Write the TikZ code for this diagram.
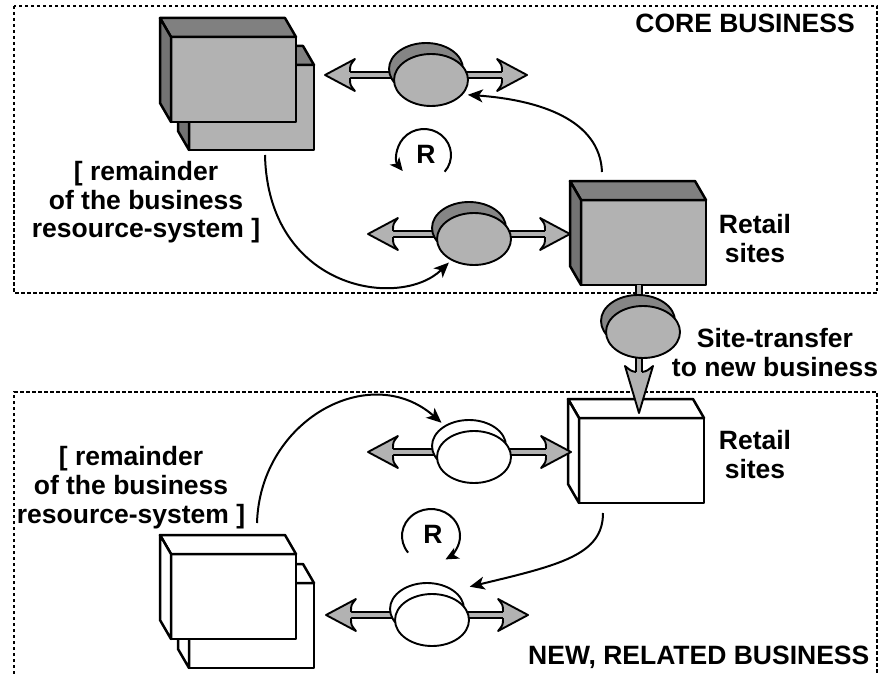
\documentclass[tikz,border=0pt]{standalone}
\usepackage{fontspec}
\setmainfont{Liberation Sans}
\usetikzlibrary{shapes.geometric,arrows.meta,calc}

\definecolor{facegray}{gray}{0.70}
\definecolor{topgray}{gray}{0.50}
\definecolor{sidegray}{gray}{0.45}
\definecolor{rimgray}{gray}{0.52}
\definecolor{flowgray}{gray}{0.70}

% centred lines whose baseline is the first line
\newcommand\stacked[1]{\begin{tabular}[t]{@{}c@{}}#1\end{tabular}}

% 3D box: name, front fill, top fill, side fill, top-left corner of the front face
\newcommand\solidbox[5]{%
  \node[boxface, fill=#2] (#1) at (#5) {};
  \filldraw[boxedge, fill=#3] (#1.north west) -- ++(-11,-19) -- ($(#1.north east)+(-11,-19)$) -- (#1.north east) -- cycle;
  \filldraw[boxedge, fill=#4] (#1.north west) -- ++(-11,-19) -- ($(#1.south west)+(-11,-19)$) -- (#1.south west) -- cycle;
}

% flow valve (coin): name, centre, face fill, rim fill
\newcommand\coin[4]{%
  \node[coinface, fill=#4] (#1-rim) at ($(#2)+(-5,-11)$) {};
  \node[coinface, fill=#3] (#1) at (#2) {};
}

% broad barbed arrow heads, tip at the given coordinate
\newcommand\headright[1]{%
  \begin{scope}[shift={(#1)}]
    \fill[flowgray] (0,0) -- (-30,-16) .. controls (-25,-10) .. (-25,-3) -- (-25,3) .. controls (-25,10) .. (-30,16) -- cycle;
    \draw[flowline] (-25,-3) .. controls (-25,-10) .. (-30,-16) -- (0,0) -- (-30,16) .. controls (-25,10) .. (-25,3);
  \end{scope}}
\newcommand\headleft[1]{%
  \begin{scope}[shift={(#1)}, xscale=-1]
    \fill[flowgray] (0,0) -- (-30,-16) .. controls (-25,-10) .. (-25,-3) -- (-25,3) .. controls (-25,10) .. (-30,16) -- cycle;
    \draw[flowline] (-25,-3) .. controls (-25,-10) .. (-30,-16) -- (0,0) -- (-30,16) .. controls (-25,10) .. (-25,3);
  \end{scope}}
\newcommand\headdown[1]{%
  \begin{scope}[shift={(#1)}]
    \fill[flowgray] (0,0) -- (-14,-47) .. controls (-8,-42) .. (-3,-41) -- (3,-41) .. controls (8,-42) .. (14,-47) -- cycle;
    \draw[flowline] (-3,-41) .. controls (-8,-42) .. (-14,-47) -- (0,0) -- (14,-47) .. controls (8,-42) .. (3,-41);
  \end{scope}}

% horizontal double-line shaft between two arrow tips
\newcommand\hshaft[2]{%
  \fill[flowgray] ($(#1)+(25,-3)$) rectangle ($(#2)+(-25,3)$);
  \draw[flowline] ($(#1)+(25,-3)$) -- ($(#2)+(-25,-3)$) ($(#1)+(25,3)$) -- ($(#2)+(-25,3)$);
}

\begin{document}
\begin{tikzpicture}[x=1pt, y=-1pt,
  boxface/.style={draw, line width=2.5pt, line join=round, minimum width=125pt, minimum height=85pt, inner sep=0pt, outer sep=0pt, anchor=north west},
  boxedge/.style={draw, line width=2.5pt, line join=round},
  coinface/.style={ellipse, draw, line width=1.9pt, minimum width=74pt, minimum height=52pt, inner sep=0pt, outer sep=0pt},
  flowline/.style={line width=1.9pt, line join=round},
  dashframe/.style={line width=1.5pt, dash pattern=on 3.5pt off 2.5pt},
  linkcurve/.style={line width=2pt, -{Stealth[length=15pt,width=13pt,inset=4pt]}},
  loopcurve/.style={line width=2pt, -{Stealth[length=13pt,width=12pt,inset=3.5pt]}},
  txt/.style={font=\fontsize{26.5}{29}\selectfont\bfseries, inner sep=0pt, anchor=base}]

\useasboundingbox (0,0) rectangle (881,674);

% business frames
\draw[dashframe] (14,6) rectangle (877,293);
\draw[dashframe] (14,674) -- (14,392) -- (877,392) -- (877,674);

% ---------- core business ----------
\solidbox{resTopBack}{facegray}{topgray}{sidegray}{189,65}
\solidbox{resTop}{facegray}{topgray}{sidegray}{171,37}
\solidbox{rt}{facegray}{topgray}{sidegray}{581,200}

% flow A
\coordinate (aL) at (325,75);
\coordinate (aR) at (527,75);
\hshaft{aL}{aR}
\coin{cA}{431,80}{facegray}{rimgray}
\headleft{aL}
\headright{aR}

% flow B into the retail sites
\coordinate (bL) at (368,234);
\coordinate (bR) at (570,234);
\hshaft{bL}{bR}
\coin{cB}{474,239}{facegray}{rimgray}
\headleft{bL}
\headright{bR}

% ---------- new, related business ----------
\solidbox{rb}{white}{white}{white}{579,418}
\solidbox{resBotBack}{white}{white}{white}{189,583}
\solidbox{resBot}{white}{white}{white}{171,554}

% site transfer between the businesses
\coordinate (cTip) at (639,413);
\fill[flowgray] ($(cTip)+(-3,-41)$) rectangle ($(cTip |- rt.south)+(3,0)$);
\draw[flowline] ($(cTip |- rt.south)+(-3,0)$) -- ($(cTip)+(-3,-41)$)
                ($(cTip |- rt.south)+(3,0)$) -- ($(cTip)+(3,-41)$);
\coin{cC}{643,332}{facegray}{rimgray}
\headdown{cTip}

% flow D
\coordinate (dL) at (368,452);
\coordinate (dR) at (571,452);
\hshaft{dL}{dR}
\coin{cD}{474,457}{white}{white}
\headleft{dL}
\headright{dR}

% flow E
\coordinate (eL) at (326,615);
\coordinate (eR) at (528,615);
\hshaft{eL}{eR}
\coin{cE}{432,620}{white}{white}
\headleft{eL}
\headright{eR}

% influence links
\coordinate (s1) at (602,172);
\draw[linkcurve, shorten >=6pt] (s1) .. controls (600,120) and (540,100) .. (cA.-25);
\coordinate (s2) at (265,155);
\draw[linkcurve, shorten >=4pt] (s2) .. controls (268,290) and (400,310) .. (cB.-137);
\coordinate (s5) at (257,523);
\draw[linkcurve, shorten >=5pt] (s5) .. controls (260,420) and (370,360) .. (cD-rim.140);
\coordinate (s6) at (603,513);
\draw[linkcurve, shorten >=17pt] (s6) .. controls (603,555) and (560,565) .. (cE-rim.35);

% reinforcing loops
\coordinate (rA) at (424,155);
\draw[loopcurve] ($(rA)+(40:27 and 26)$) arc[start angle=40, end angle=-218, x radius=27, y radius=26];
\node[txt, anchor=center] (rAtxt) at (426,154) {R};
\coordinate (rB) at (431,536);
\draw[loopcurve] ($(rB)+(142:29 and 27)$) arc[start angle=142, end angle=420, x radius=29, y radius=27];
\node[txt, anchor=center] (rBtxt) at (433,534) {R};

% labels
\node[txt, anchor=base east] (core) at (855,33) {CORE BUSINESS};
\node[txt, anchor=base west] (newbiz) at (528,664) {NEW, RELATED BUSINESS};
\node[txt] (remTop) at (146,180) {\stacked{[ remainder\\of the business\\resource-system ]}};
\node[txt] (remBot) at (131,465) {\stacked{[ remainder\\of the business\\resource-system ]}};
\node[txt] (rtLbl) at (755,233) {\stacked{Retail\\sites}};
\node[txt] (rbLbl) at (755,449) {\stacked{Retail\\sites}};
\node[txt] (xfer) at (775,347) {\stacked{Site-transfer\\to new business}};

\end{tikzpicture}
\end{document}
